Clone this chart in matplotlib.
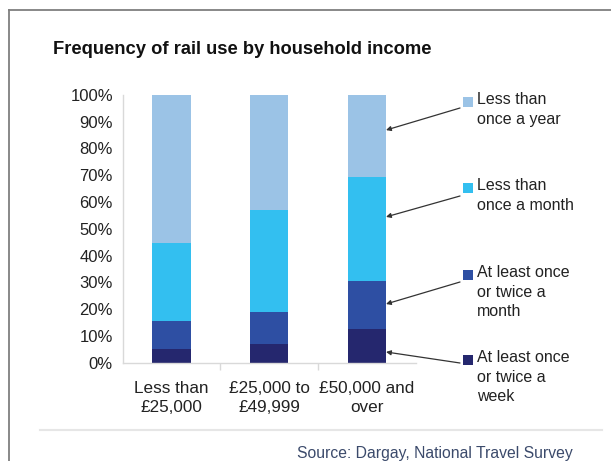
import matplotlib
matplotlib.use("Agg")
import matplotlib.pyplot as plt
from matplotlib.lines import Line2D
from matplotlib.patches import Rectangle
import numpy as np

plt.rcParams['font.family'] = ['Liberation Sans', 'DejaVu Sans']

# income bands and share (%) of people in each rail-use frequency
incomes = ['Less than\n£25,000', '£25,000 to\n£49,999', '£50,000 and\nover']
weekly = [5.2, 7.0, 12.7]
monthly = [10.3, 11.9, 17.6]
less_monthly = [29.0, 38.1, 39.1]
less_yearly = [55.5, 43.0, 30.6]

series_labels = ['At least once\nor twice a\nweek',
                 'At least once\nor twice a\nmonth',
                 'Less than\nonce a month',
                 'Less than\nonce a year']
colors = ['#25276e', '#2e4fa3', '#33bff0', '#9bc3e6']

W, H = 611, 461
fig = plt.figure(figsize=(W / 100, H / 100), dpi=100)

def fx(px):
    return px / W

def fy(py):
    return 1 - py / H

ax = fig.add_axes([fx(122.7), fy(362.7), 293 / W, 268 / H])

x = np.arange(len(incomes))
bottom = np.zeros(len(incomes))
for vals, c in zip([weekly, monthly, less_monthly, less_yearly], colors):
    ax.bar(x, vals, width=0.39, bottom=bottom, color=c, linewidth=0)
    bottom += np.array(vals)

ax.set_xlim(-0.5, 2.5)
ax.set_ylim(0, 100)
ax.set_yticks(np.arange(0, 101, 10))
ax.set_yticklabels([f'{v}%' for v in range(0, 101, 10)], fontsize=12, color='#222222')
ax.tick_params(axis='y', length=0, pad=7)

ax.set_xticks(x)
ax.set_xticklabels(incomes, fontsize=12.3, color='#222222', linespacing=1.38)
ax.tick_params(axis='x', length=0, pad=13)
ax.set_xticks([0.5, 1.5], minor=True)
ax.tick_params(axis='x', which='minor', length=5, color='#d9d9d9', width=1)

for s in ['top', 'right']:
    ax.spines[s].set_visible(False)
for s in ['left', 'bottom']:
    ax.spines[s].set_color('#d9d9d9')
    ax.spines[s].set_linewidth(1)

# legend boxes with labels on the right, arrows pointing into the last bar
legend_rows = [(97, 108, 86.8), (183, 196, 54.4), (270, 282, 21.9), (355, 363, 4.0)]
for (sq_top, arrow_y, target), label, c in zip(legend_rows, series_labels[::-1], colors[::-1]):
    fig.add_artist(Rectangle((fx(463), fy(sq_top + 10)), 10 / W, 10 / H,
                             transform=fig.transFigure, color=c, linewidth=0))
    fig.text(fx(477), fy(sq_top - 5), label, fontsize=11.5, va='top', ha='left',
             color='#222222', linespacing=1.38)
    ax.annotate('', xy=(2.196, target), xycoords='data',
                xytext=(fx(460), fy(arrow_y)), textcoords='figure fraction',
                arrowprops=dict(arrowstyle='-|>', color='#333333', lw=0.9,
                                mutation_scale=7, shrinkA=0, shrinkB=0))

fig.text(fx(53), fy(49), 'Frequency of rail use by household income',
         fontsize=13.2, fontweight='bold', va='center', ha='left', color='#111111')

fig.text(fx(297), fy(453), 'Source: Dargay, National Travel Survey',
         fontsize=11.3, va='center', ha='left', color='#3b4a6b')

# slide frame and footer rule
fig.add_artist(Line2D([fx(9), fx(9)], [0, fy(10.5)], transform=fig.transFigure,
                      color='#7f7f7f', lw=1.3))
fig.add_artist(Line2D([fx(9), 1], [fy(10.5), fy(10.5)], transform=fig.transFigure,
                      color='#7f7f7f', lw=1.3))
fig.add_artist(Line2D([fx(40), fx(602)], [fy(430), fy(430)], transform=fig.transFigure,
                      color='#e6e6e6', lw=1.5))

fig.savefig('out.png', dpi=100)
